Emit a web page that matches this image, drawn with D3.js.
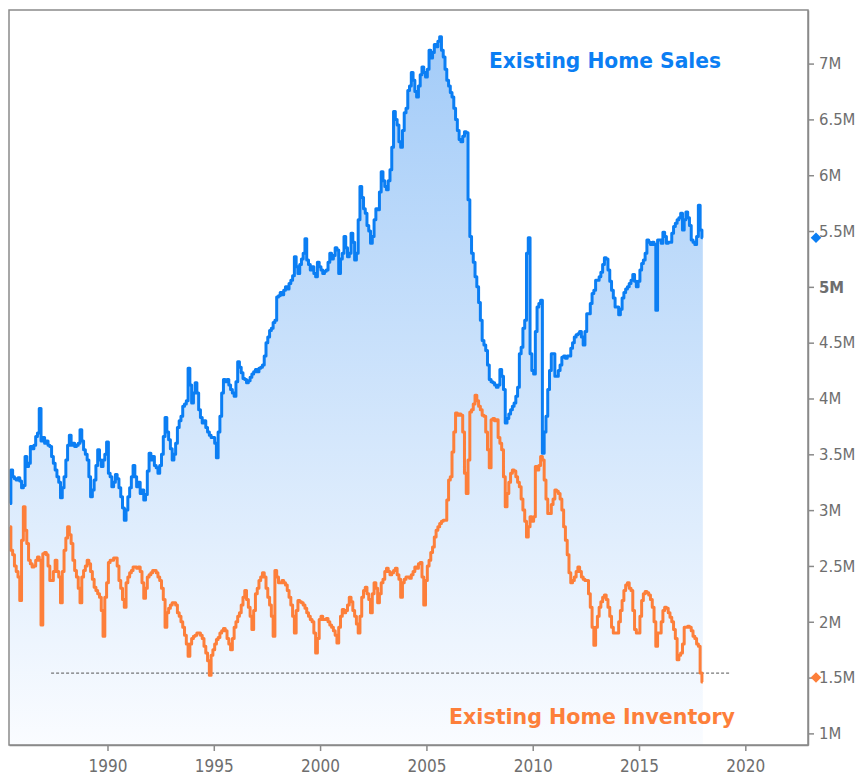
<!DOCTYPE html>
<html>
<head>
<meta charset="utf-8">
<script src="https://cdn.jsdelivr.net/npm/d3@7"></script>
<style>
  body{margin:0;background:#fff}
  svg{display:block}
  .axis text{font-family:"DejaVu Sans Condensed","DejaVu Sans",sans-serif;fill:#6e6e6e}
</style>
</head>
<body>
<div id="chart"></div>
<script>
// monthly observations, millions (SAAR), first value = Jun 1985, last = Jan 2018
const firstMonth = new Date(1985, 5, 1);
const sales = [
  3.06,3.36,3.30,3.28,3.27,3.29,3.26,
  3.20,3.22,3.48,3.39,3.42,3.57,3.55,3.58,3.66,3.69,3.91,3.62, // 1986
  3.65,3.60,3.62,3.58,3.57,3.48,3.42,3.36,3.30,3.25,3.11,3.20, // 1987
  3.30,3.45,3.58,3.67,3.58,3.60,3.57,3.58,3.60,3.72,3.62,3.54, // 1988
  3.50,3.45,3.30,3.12,3.18,3.27,3.40,3.54,3.45,3.39,3.45,3.50, // 1989
  3.61,3.33,3.30,3.21,3.25,3.32,3.28,3.20,3.12,3.02,2.91,3.00, // 1990
  3.12,3.20,3.30,3.40,3.30,3.21,3.25,3.15,3.18,3.09,3.14,3.35, // 1991
  3.51,3.45,3.48,3.40,3.38,3.33,3.40,3.50,3.66,3.83,3.70,3.63, // 1992
  3.55,3.45,3.50,3.60,3.74,3.80,3.84,3.93,3.95,3.98,4.27,4.12, // 1993
  3.96,4.05,4.14,4.05,3.90,3.83,3.78,3.80,3.74,3.70,3.67,3.65, // 1994
  3.65,3.60,3.47,3.70,3.84,4.05,4.17,4.15,4.17,4.12,4.08,4.05, // 1995
  4.02,4.15,4.33,4.28,4.23,4.18,4.17,4.14,4.16,4.19,4.22,4.24, // 1996
  4.26,4.24,4.27,4.28,4.30,4.38,4.50,4.55,4.61,4.63,4.68,4.70, // 1997
  4.91,4.92,4.95,4.93,4.97,5.00,4.98,5.03,5.06,5.10,5.27,5.18, // 1998
  5.12,5.20,5.25,5.30,5.43,5.24,5.20,5.15,5.18,5.12,5.09,5.22, // 1999
  5.18,5.15,5.12,5.14,5.15,5.22,5.30,5.25,5.28,5.35,5.33,5.12, // 2000
  5.25,5.30,5.45,5.35,5.27,5.30,5.48,5.40,5.24,5.30,5.60,5.90, // 2001
  5.80,5.70,5.66,5.55,5.50,5.39,5.45,5.60,5.70,5.69,5.85,6.03, // 2002
  5.95,5.90,5.87,5.95,6.05,6.25,6.57,6.50,6.45,6.30,6.25,6.40, // 2003
  6.56,6.60,6.76,6.80,6.92,6.85,6.75,6.70,6.80,6.90,6.97,6.92, // 2004
  6.88,6.95,7.12,7.05,7.10,7.17,7.15,7.20,7.24,7.12,7.06,6.95, // 2005
  6.85,6.80,6.74,6.70,6.60,6.50,6.40,6.32,6.30,6.35,6.39,6.38, // 2006
  5.78,5.45,5.30,5.22,5.09,5.00,4.86,4.70,4.52,4.48,4.43,4.30, // 2007
  4.17,4.15,4.14,4.12,4.10,4.12,4.26,4.20,4.08,3.78,3.82,3.86, // 2008
  3.90,3.93,3.96,4.02,4.10,4.40,4.46,4.63,4.70,5.30,5.44,4.40, // 2009
  4.25,4.22,4.60,4.82,4.85,4.88,3.51,3.70,3.84,4.08,4.25,4.40, // 2010
  4.40,4.20,4.20,4.25,4.30,4.37,4.38,4.36,4.38,4.38,4.45,4.50, // 2011
  4.55,4.57,4.58,4.60,4.55,4.48,4.60,4.76,4.76,4.85,4.94,4.97, // 2012
  5.06,5.06,5.09,5.13,5.20,5.26,5.25,5.15,5.05,4.97,4.90,4.82, // 2013
  4.82,4.75,4.80,4.90,4.95,4.98,5.00,5.03,5.06,5.11,5.05,5.00, // 2014
  5.05,5.15,5.21,5.24,5.30,5.42,5.40,5.38,5.40,5.38,4.79,5.42, // 2015
  5.42,5.39,5.49,5.45,5.39,5.40,5.40,5.48,5.54,5.57,5.60,5.62, // 2016
  5.66,5.51,5.60,5.67,5.62,5.55,5.42,5.40,5.38,5.45,5.73,5.51, // 2017
  5.44
];
const inventory = [
  2.85,2.64,2.60,2.50,2.45,2.40,2.19,
  2.73,3.03,2.82,2.70,2.55,2.52,2.49,2.50,2.55,2.58,2.55,1.97, // 1986
  2.61,2.62,2.60,2.50,2.37,2.37,2.45,2.55,2.45,2.40,2.17,2.45, // 1987
  2.64,2.75,2.85,2.78,2.70,2.55,2.46,2.40,2.30,2.17,2.40,2.46, // 1988
  2.50,2.55,2.52,2.45,2.38,2.31,2.28,2.25,2.22,2.10,1.87,2.22, // 1989
  2.35,2.53,2.55,2.55,2.57,2.57,2.50,2.37,2.30,2.20,2.13,2.35, // 1990
  2.40,2.44,2.46,2.49,2.49,2.48,2.49,2.45,2.35,2.21,2.30,2.40, // 1991
  2.42,2.44,2.46,2.46,2.44,2.40,2.37,2.30,2.20,1.95,2.08,2.12, // 1992
  2.15,2.17,2.17,2.15,2.08,2.05,2.00,1.95,1.88,1.80,1.69,1.80, // 1993
  1.85,1.87,1.88,1.90,1.90,1.88,1.85,1.78,1.72,1.65,1.52,1.70, // 1994
  1.75,1.80,1.84,1.86,1.90,1.92,1.94,1.92,1.85,1.80,1.75,1.85, // 1995
  1.95,2.00,2.05,2.08,2.15,2.22,2.28,2.20,2.13,2.05,1.93,2.10, // 1996
  2.25,2.30,2.37,2.40,2.44,2.40,2.30,2.22,2.15,2.05,1.87,2.46, // 1997
  2.40,2.35,2.35,2.37,2.35,2.33,2.28,2.22,2.15,2.05,1.90,2.10, // 1998
  2.19,2.18,2.17,2.15,2.12,2.08,2.05,2.02,2.00,1.90,1.72,1.85, // 1999
  2.02,2.05,2.02,2.02,2.03,2.00,1.97,1.95,1.92,1.88,1.81,1.95, // 2000
  2.05,2.11,2.08,2.10,2.15,2.22,2.18,2.10,2.05,1.98,1.90,2.05, // 2001
  2.22,2.28,2.31,2.25,2.20,2.08,2.25,2.35,2.30,2.17,2.25,2.35, // 2002
  2.38,2.45,2.48,2.45,2.42,2.44,2.46,2.48,2.42,2.38,2.22,2.35, // 2003
  2.38,2.40,2.40,2.39,2.42,2.45,2.49,2.48,2.52,2.53,2.40,2.15, // 2004
  2.37,2.50,2.55,2.62,2.67,2.76,2.82,2.85,2.88,2.90,2.91,2.91, // 2005
  3.09,3.27,3.30,3.52,3.70,3.87,3.85,3.86,3.85,3.70,3.33,3.15, // 2006
  3.45,3.88,3.90,3.95,4.03,3.98,3.93,3.90,3.85,3.84,3.70,3.54, // 2007
  3.38,3.81,3.82,3.80,3.81,3.65,3.60,3.54,3.30,3.03,3.15,3.25, // 2008
  3.33,3.36,3.35,3.30,3.25,3.21,3.10,3.00,2.90,2.76,2.85,2.94, // 2009
  2.90,2.94,3.39,3.36,3.40,3.48,3.45,3.27,3.10,2.97,2.97,3.05, // 2010
  3.10,3.18,3.17,3.15,3.10,3.00,2.85,2.73,2.60,2.44,2.35,2.37, // 2011
  2.40,2.45,2.49,2.45,2.40,2.38,2.37,2.37,2.25,2.13,1.95,1.79, // 2012
  1.95,2.05,2.13,2.18,2.22,2.24,2.20,2.13,2.05,1.95,1.90,1.90, // 2013
  1.90,2.00,2.10,2.19,2.28,2.33,2.35,2.30,2.28,2.10,1.93,1.90, // 2014
  1.90,2.05,2.19,2.25,2.27,2.26,2.24,2.20,2.13,2.00,1.78,1.90, // 2015
  1.90,2.00,2.10,2.13,2.12,2.08,2.04,2.00,1.93,1.85,1.66,1.70, // 2016
  1.72,1.80,1.95,1.95,1.96,1.95,1.92,1.87,1.85,1.80,1.78,1.54, // 2017
  1.46
];
const seriesNames = ["Existing Home Sales", "Existing Home Inventory"];
const lastMarks = [5.44, 1.50];          // diamonds on the axis
const refLevel = 1.54;                   // dashed reference line
const refSpan = ["1987-05-08", "2019-04-20"];
const yTicks = [1,1.5,2,2.5,3,3.5,4,4.5,5,5.5,6,6.5,7];
const xTickYears = [1990,1995,2000,2005,2010,2015,2020];

const W = 864, H = 775;
const m = {top:10, right:56, bottom:30, left:9};
const iw = W - m.left - m.right, ih = H - m.top - m.bottom;
const blue = "#0b7ef3", orange = "#fd7f3a";
const font = '"DejaVu Sans Condensed","DejaVu Sans",sans-serif';

const svg = d3.select("#chart").append("svg").attr("width", W).attr("height", H);
const defs = svg.append("defs");
const g = svg.append("g").attr("transform", `translate(${m.left},${m.top})`);

const x = d3.scaleTime().domain([new Date(1985,4,15), new Date(2022,11,13)]).range([0, iw]);
const y = d3.scaleLinear().domain([0.896, 7.48]).range([ih, 0]);

const rows = sales.map((v, i) => ({date: d3.timeMonth.offset(firstMonth, i), sales: v, inv: inventory[i]}));

defs.append("clipPath").attr("id", "plot").append("rect").attr("width", iw).attr("height", ih);
const grad = defs.append("linearGradient").attr("id", "salesFill")
  .attr("gradientUnits", "userSpaceOnUse").attr("x1", 0).attr("x2", 0).attr("y1", y(7.3)).attr("y2", ih);
grad.append("stop").attr("offset", 0).attr("stop-color", "#a2cbf8");
grad.append("stop").attr("offset", 1).attr("stop-color", "#fafcff");

const plot = g.append("g").attr("clip-path", "url(#plot)");
plot.append("path").datum(rows)
  .attr("fill", "url(#salesFill)")
  .attr("d", d3.area().curve(d3.curveStep).x(d => x(d.date)).y0(ih).y1(d => y(d.sales)));

plot.append("line")
  .attr("x1", x(new Date(refSpan[0]))).attr("x2", x(new Date(refSpan[1])))
  .attr("y1", y(refLevel)).attr("y2", y(refLevel))
  .attr("stroke", "#555").attr("stroke-width", 1).attr("stroke-dasharray", "3,2");

plot.append("path").datum(rows)
  .attr("fill", "none").attr("stroke", blue).attr("stroke-width", 3).attr("stroke-linejoin", "round")
  .attr("d", d3.line().curve(d3.curveStep).x(d => x(d.date)).y(d => y(d.sales)));
plot.append("path").datum(rows)
  .attr("fill", "none").attr("stroke", orange).attr("stroke-width", 3).attr("stroke-linejoin", "round")
  .attr("d", d3.line().curve(d3.curveStep).x(d => x(d.date)).y(d => y(d.inv)));

// frame
g.append("rect").attr("width", iw).attr("height", ih).attr("fill", "none")
  .attr("stroke", "#8a8a8a").attr("stroke-width", 1.5);

// axes
const yAxis = g.append("g").attr("class", "axis").attr("transform", `translate(${iw},0)`)
  .call(d3.axisRight(y).tickValues(yTicks).tickSize(6).tickSizeOuter(0).tickPadding(5).tickFormat(d => d + "M"));
yAxis.selectAll("line,path").attr("stroke", "#8a8a8a").attr("stroke-width", 1.5);
yAxis.selectAll("text").attr("font-size", 16.5)
  .attr("font-weight", d => d === 5 ? "bold" : null).attr("fill", d => d === 5 ? "#444" : "#6e6e6e");

const xAxis = g.append("g").attr("class", "axis").attr("transform", `translate(0,${ih})`)
  .call(d3.axisBottom(x).tickValues(xTickYears.map(yr => new Date(yr, 0, 1))).tickSize(6).tickSizeOuter(0).tickPadding(9)
    .tickFormat(d3.timeFormat("%Y")));
xAxis.selectAll("line,path").attr("stroke", "#8a8a8a").attr("stroke-width", 1.5);
xAxis.selectAll("text").attr("font-size", 17);

// last-value diamonds
const diamond = d3.symbol().type(d3.symbolSquare).size(56);
g.selectAll(".mark").data(lastMarks).join("path")
  .attr("transform", d => `translate(${iw + 8},${y(d)}) rotate(45)`)
  .attr("d", diamond).attr("fill", (d, i) => i === 0 ? blue : orange);

// series labels
g.append("text").attr("x", 480).attr("y", 58).attr("font-family", font).attr("font-weight", "bold")
  .attr("font-size", 22).attr("fill", blue).attr("textLength", 232).attr("lengthAdjust", "spacingAndGlyphs")
  .text(seriesNames[0]);
g.append("text").attr("x", 440).attr("y", 714).attr("font-family", font).attr("font-weight", "bold")
  .attr("font-size", 22).attr("fill", orange).attr("textLength", 286).attr("lengthAdjust", "spacingAndGlyphs")
  .text(seriesNames[1]);
</script>
</body>
</html>
